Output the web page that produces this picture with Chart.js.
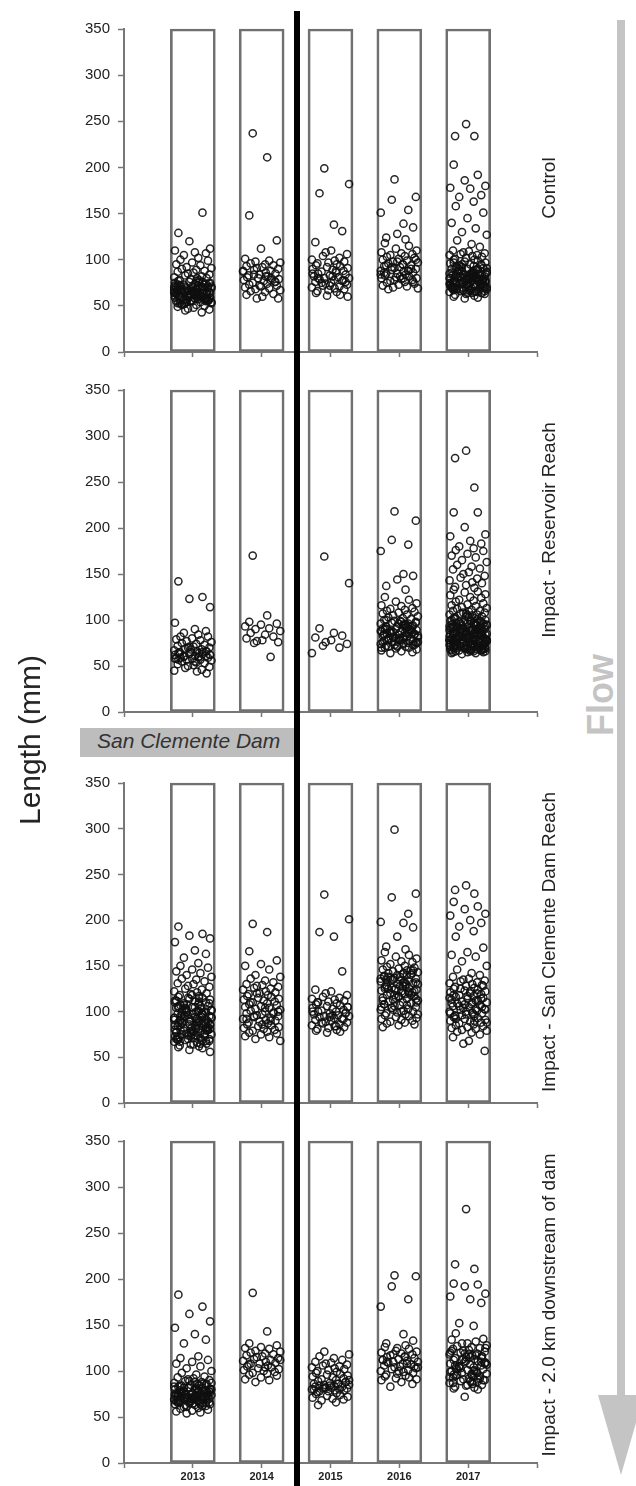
<!DOCTYPE html>
<html>
<head>
<meta charset="utf-8">
<script src="https://cdn.jsdelivr.net/npm/chart.js"></script>
<style>
  body { margin:0; background:#fff; }
  #wrap { position:relative; width:636px; height:1486px; background:#fff; overflow:hidden;
          font-family:"Liberation Sans", Arial, sans-serif; color:#222; }
  canvas { position:absolute; left:0; }
  .rot { position:absolute; white-space:nowrap; transform:translate(-50%,-50%) rotate(-90deg); }
</style>
</head>
<body>
<div id="wrap">
  <canvas id="c1" width="545" height="365" style="top:12px"></canvas>
  <canvas id="c2" width="545" height="364" style="top:373px"></canvas>
  <canvas id="c3" width="545" height="362" style="top:766px"></canvas>
  <canvas id="c4" width="545" height="364" style="top:1124px"></canvas>

  <!-- dam line + label -->
  <div style="position:absolute;left:80px;top:728px;width:216px;height:29px;background:#bdbdbd"></div>
  <div style="position:absolute;left:97px;top:729px;font-size:21px;font-style:italic;color:#333">San Clemente Dam</div>
  <div style="position:absolute;left:294px;top:11px;width:6px;height:1475px;background:#000"></div>

  <div class="rot" style="left:30px;top:740px;font-size:30px;color:#222">Length (mm)</div>

  <div class="rot" style="left:549px;top:188px;font-size:19px">Control</div>
  <div class="rot" style="left:549px;top:530px;font-size:19px">Impact - Reservoir Reach</div>
  <div class="rot" style="left:549px;top:942px;font-size:19px">Impact - San Clemente Dam Reach</div>
  <div class="rot" style="left:549px;top:1305px;font-size:19px">Impact - 2.0 km downstream of dam</div>

  <!-- flow arrow -->
  <div style="position:absolute;left:617px;top:20px;width:8px;height:1380px;background:#c4c4c4"></div>
  <div style="position:absolute;left:598px;top:1395px;width:0;height:0;border-left:23px solid transparent;border-right:23px solid transparent;border-top:80px solid #c4c4c4"></div>
  <div class="rot" style="left:601px;top:695px;font-size:36px;font-weight:bold;color:#c4c4c4">Flow</div>
</div>

<script>
// 카테고리(연도)와 눈금
const years = [2013, 2014, 2015, 2016, 2017];
const yTicks = [0, 50, 100, 150, 200, 250, 300, 350];

// 상자 안에서 점을 좌우로 흩뜨리는 오프셋 (연 단위)
const jitter = [-0.21, 0.14, -0.05, 0.25, -0.26, 0.03, 0.19, -0.13, 0.08, -0.18, 0.22, -0.01, -0.24, 0.11, -0.09, 0.27,
  -0.16, 0.05, 0.17, -0.22, 0.01, -0.07, 0.24, -0.11, 0.13, -0.27, 0.06, 0.20, -0.03, -0.19, 0.09];

// ---- Control ----
const ctl2013 = [129,151,120,112,110,108,107,105,102,100,99,97,95,94,92,91,90,89,88,87,86,85,84,83,82,81,80,80,79,78,78,77,76,76,75,75,74,74,73,72,72,71,71,70,70,69,69,68,68,67,67,66,66,65,65,64,64,63,63,62,62,61,61,60,60,59,59,58,58,57,57,56,56,55,55,54,54,53,52,51,50,49,48,47,46,45,43,70,68,65,62,60,58,66,64,61,59,72,63,57,67,62,58,55,69,64,60,56,71,66,61,57,53,63,59,
  74,71,68,65,62,59,56,53,76,73,70,67,64,61,58,55,52,75,72,69,66,63,60,57,54,51,77,73,69,65,61,57,53,71,67,63,59,55,66,62];
const ctl2014 = [237,211,148,121,112,101,99,98,97,96,95,94,93,92,91,90,89,88,87,86,85,84,83,82,81,80,80,79,78,77,76,75,74,73,72,71,70,69,68,67,66,65,63,62,60,58,58,84,78,88,82,76,72];
const ctl2015 = [199,182,172,138,131,119,110,108,106,104,102,100,99,98,97,96,95,94,93,92,91,90,89,88,87,86,85,84,83,82,81,80,80,79,78,77,76,75,74,73,72,71,70,69,68,67,66,65,64,62,61,60,85,82,78,75,88,80,76,72];
const ctl2016 = [187,168,165,154,151,139,135,128,124,122,118,115,112,110,108,107,106,105,104,103,102,101,100,99,98,97,96,95,94,93,92,91,90,89,88,88,87,86,85,85,84,83,82,81,80,80,79,78,77,76,75,74,73,72,71,70,69,68,95,90,86,82,78,100,92,88,84,80,76,98,94];
const ctl2017 = [247,234,234,203,192,186,180,178,177,170,168,163,158,151,145,140,134,130,127,121,117,114,
  110,109,108,107,106,105,105,104,103,102,101,100,100,99,98,97,96,95,95,94,93,92,91,90,90,89,88,87,86,85,85,84,84,83,82,82,81,80,80,79,79,78,78,77,77,76,76,75,75,74,74,73,73,72,72,71,71,70,70,69,69,68,68,67,67,66,66,65,65,64,64,63,62,61,60,59,58,
  85,80,76,72,68,88,83,78,74,70,66,92,86,81,77,73,69,79,75,71,82,78,74,87,83,79,75,71,67,84,80,76,72,68,64,90,86,82,78,74,70,66,
  95,91,87,83,79,75,71,67,63,93,89,85,81,77,73,69,65,97,90,84,78,72,66,94,88,82,76,70,64,86,80,74,68,92,84,77,70,81,75,69];

// ---- Impact - Reservoir Reach ----
const res2013 = [142,125,123,114,97,90,88,86,84,82,82,80,79,78,77,76,75,74,73,72,71,70,70,69,68,67,66,66,65,65,64,64,63,63,62,62,61,61,60,60,59,59,58,58,57,57,56,55,54,53,52,51,50,49,48,46,45,44,42,68,63,60,57,65,71,62,58,55,66,61];
const res2014 = [170,105,98,96,95,93,91,90,88,86,84,82,80,78,77,76,75,60];
const res2015 = [169,140,91,86,83,81,78,76,74,72,70,64];
const res2016 = [218,208,187,182,175,150,148,144,137,133,125,122,120,118,116,
  115,113,112,111,110,109,108,107,106,105,104,103,102,101,100,99,99,98,97,96,96,95,94,93,93,92,91,90,90,89,88,88,87,86,86,85,84,84,83,82,82,81,80,80,79,78,78,77,76,76,75,74,74,73,72,72,71,70,70,69,68,67,66,65,64,
  95,90,85,80,76,92,87,83,79,75,89,84,78,73,97,86,93,88,82,77,71,
  100,95,90,85,80,75,70,98,93,88,83,78,73,96,91,86,81,76,71,94,89,84,79];
const res2017 = [284,276,244,217,217,201,193,191,186,183,180,178,176,175,172,170,168,165,163,160,158,156,155,152,150,148,146,145,143,141,140,138,136,135,133,131,130,128,127,125,124,122,121,120,118,117,116,115,114,113,112,111,
  110,110,109,108,108,107,106,106,105,104,104,103,102,102,101,100,100,99,99,98,98,97,97,96,96,95,95,94,94,93,93,92,92,91,91,90,90,89,89,88,88,87,87,86,86,85,85,84,84,83,83,82,82,81,81,80,80,79,79,78,78,77,77,76,76,75,75,74,74,73,73,72,72,71,71,70,70,69,69,68,68,67,67,66,66,65,65,64,64,63,
  95,92,89,86,83,80,77,74,71,68,93,90,87,84,81,78,75,72,69,66,91,88,85,82,79,76,73,70,67,94,86,78,70,99,84,76,68,88,80,72,97,82,74,
  85,81,77,73,69,90,86,79,75,71,67,83,79,72,68,
  105,100,95,90,85,80,75,70,65,103,98,93,88,83,78,73,68,107,101,96,91,86,81,76,71,66,94,89,84,79,74,69,92,87,82,77,72,67,99,86,80,75,70,96,84,78,73];

// ---- Impact - San Clemente Dam Reach ----
const scd2013 = [193,185,183,180,176,167,163,159,153,150,148,146,144,142,140,138,136,135,133,131,130,128,
  127,125,124,122,121,120,119,118,117,116,115,114,113,112,111,110,109,108,107,106,105,104,103,102,101,100,100,99,98,97,96,95,95,94,93,92,91,90,90,89,88,87,86,85,85,84,83,82,81,80,80,79,78,77,76,75,75,74,73,72,71,70,70,69,68,67,66,65,64,63,62,61,60,58,56,
  110,105,100,95,90,85,80,75,70,65,108,102,96,92,88,84,78,74,68,104,98,93,87,82,77,72,115,106,97,89,81,73,94,86,79,100,91,83,
  118,112,106,100,94,88,82,76,70,64,115,109,103,97,91,85,79,73,67,111,104,98,92,86,80,74,68,107,101,95,89,83,77,71,99,93,87,81,75,69];
const scd2014 = [196,187,166,156,152,150,146,140,138,136,134,132,130,129,128,127,126,125,124,122,121,120,119,118,117,116,115,114,113,112,111,110,109,108,107,106,105,104,103,102,101,100,99,98,97,96,95,94,93,92,91,90,89,88,87,86,85,84,83,82,81,80,79,78,77,76,75,73,72,70,68,110,104,98,92,86,120,100,95,90];
const scd2015 = [228,201,187,182,144,124,122,120,118,116,115,114,113,112,111,110,109,108,107,106,105,104,103,102,101,100,100,99,98,97,96,95,95,94,93,92,91,90,89,88,87,86,85,84,83,82,81,80,79,78,77,105,100,96,92,88,84,110,98,94];
const scd2016 = [299,229,225,207,198,197,192,182,171,168,165,162,160,158,156,155,154,152,150,149,148,147,146,145,144,143,142,141,140,139,138,137,136,135,134,133,132,131,130,129,128,127,126,125,124,123,122,121,120,119,118,117,116,115,114,113,112,111,110,109,108,107,106,105,104,103,102,101,100,99,98,97,96,95,94,93,92,91,90,89,88,87,86,85,83,140,135,130,125,120,145,138,128,118,132,126,122,136,142,
  145,140,135,130,125,120,115,110,105,100,142,137,132,127,122,117,112,107,102,97,138,128,118,108,134,124,114,104];
const scd2017 = [238,233,229,220,215,212,207,205,200,197,193,188,182,170,165,162,160,155,150,146,142,140,
  138,136,135,134,133,132,131,130,129,128,127,126,125,124,123,122,121,120,119,118,117,116,115,114,113,112,111,110,109,108,107,106,105,104,103,102,101,100,99,98,97,96,95,94,93,92,91,90,89,88,87,86,85,84,83,82,81,80,79,78,77,75,72,68,65,57,
  125,120,115,110,105,100,95,90,118,112,108,102,98,122,114,106,97,92,128,117,109,103,96,88];

// ---- Impact - 2.0 km downstream of dam ----
const dns2013 = [183,170,162,154,147,140,134,130,116,114,112,110,108,105,103,100,98,96,
  94,93,92,91,90,89,88,87,86,86,85,84,84,83,82,82,81,80,80,79,78,78,77,76,76,75,75,74,74,73,73,72,72,71,71,70,70,69,69,68,68,67,67,66,66,65,65,64,64,63,62,61,60,59,58,57,56,55,54,
  80,77,74,71,68,65,82,78,75,72,69,76,73,70,79,85,74,71,67,77,73,
  88,85,82,79,76,73,70,67,64,61,87,84,81,78,75,72,69,66,63,86,83,80,77,74,71,68,65,62,89,80,75,70,66,78,72,68];
const dns2014 = [185,143,130,128,126,125,124,122,121,120,119,118,117,116,115,114,113,112,111,110,109,108,107,106,105,104,103,102,101,100,99,98,97,96,95,93,91,90,88,112,108,104];
const dns2015 = [121,118,116,114,112,110,109,108,107,106,105,104,103,102,101,100,99,98,97,96,95,94,93,92,91,90,89,88,87,86,86,85,85,84,84,83,83,82,82,81,81,80,80,79,79,78,77,76,75,74,73,72,71,70,69,68,66,63,88,84,80,86,82,90,78];
const dns2016 = [204,203,192,178,170,140,133,125,130,128,126,124,122,121,120,119,118,117,116,115,114,113,112,111,110,110,109,108,107,106,105,104,103,102,101,100,99,98,97,96,95,94,93,92,91,90,88,86,83,115,110,105,100,112,108,118,104];
const dns2017 = [276,216,211,195,194,192,184,181,178,174,152,149,141,135,130,
  134,132,130,128,127,126,125,124,123,122,121,120,119,118,117,116,115,114,113,112,111,110,109,108,107,106,105,104,103,102,101,100,99,98,97,96,95,94,93,92,91,90,89,88,87,86,85,84,83,82,81,80,72,
  125,120,115,110,105,100,95,90,85,122,117,112,107,102,97,92,87,118,113,108,103,98,93,88,116,111,106,101,96,91,119,109,99,89,114,104,94];

const panels = [
  { id: 'c1', groups: [ctl2013, ctl2014, ctl2015, ctl2016, ctl2017], labels: false },
  { id: 'c2', groups: [res2013, res2014, res2015, res2016, res2017], labels: false },
  { id: 'c3', groups: [scd2013, scd2014, scd2015, scd2016, scd2017], labels: false },
  { id: 'c4', groups: [dns2013, dns2014, dns2015, dns2016, dns2017], labels: true }
];

Chart.defaults.font.family = '"Liberation Sans", Arial, sans-serif';

// 점 데이터 만들기 : 연도 + 흩뜨림
function makePoints(groups){
  let pts = [];
  for(let g = 0; g < groups.length; g++){
    const ys = groups[g];
    for(let i = 0; i < ys.length; i++){
      pts.push({ x: years[g] + jitter[(i + g * 7) % jitter.length], y: ys[i] });
    }
  }
  return pts;
}

function drawPanel(p){
  const ctx = document.getElementById(p.id);

  new Chart(ctx, {
    type: 'scatter',
    data: {
      datasets: [{
        data: makePoints(p.groups),
        pointRadius: 3.6,
        pointBorderWidth: 1.5,
        borderColor: 'rgba(15,15,15,0.9)',
        backgroundColor: 'rgba(0,0,0,0)',
        clip: false
      }, {
        type: 'bar',
        // 0 ~ 350 범위 상자
        data: years.map(y => ({ x: y, y: [yTicks[0], yTicks[yTicks.length - 1]] })),
        barThickness: 45,
        backgroundColor: 'rgba(0,0,0,0)',
        borderColor: '#707070',
        borderWidth: 2,
        borderSkipped: false,
        clip: false
      }]
    },
    options: {
      responsive: false,
      animation: false,
      devicePixelRatio: 1,
      layout: { padding: { top: 0, right: 8, left: 0, bottom: 0 } },
      plugins: { legend: { display: false }, tooltip: { enabled: false } },
      scales: {
        x: {
          type: 'linear',
          min: 2012, max: 2018,
          offset: false,
          afterFit: s => { s.height = 25; },
          ticks: {
            stepSize: 1,
            padding: 2,
            color: '#222',
            font: { size: 11, weight: 'bold' },
            callback: v => (p.labels && years.includes(v)) ? String(v) : ''
          },
          grid: { offset: false, drawOnChartArea: false, drawTicks: true, tickLength: 5, tickColor: '#777', tickWidth: 1.5 },
          border: { display: true, color: '#777', width: 2 }
        },
        y: {
          min: 0, max: 350,
          afterFit: s => { s.width = 124; },
          ticks: { stepSize: 50, padding: 8, color: '#222', font: { size: 15 } },
          grid: { drawOnChartArea: false, drawTicks: true, tickLength: 6, tickColor: '#777', tickWidth: 1.5 },
          border: { display: true, color: '#777', width: 2 }
        }
      }
    }
  });
}

for(let i = 0; i < panels.length; i++){
  drawPanel(panels[i]);
}
</script>
</body>
</html>
